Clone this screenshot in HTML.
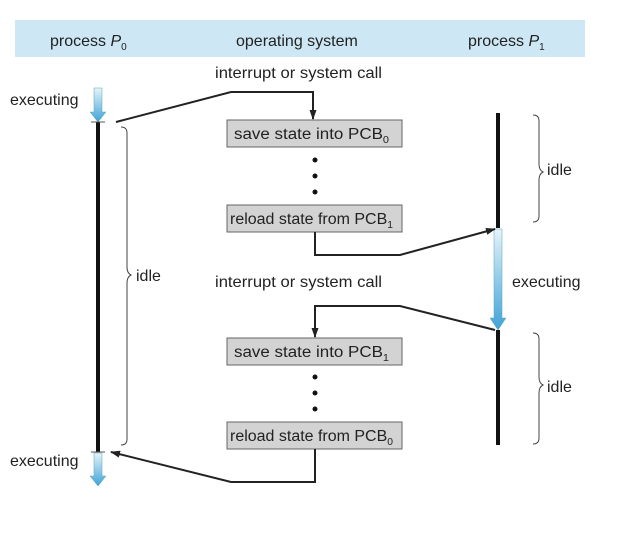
<!DOCTYPE html>
<html><head><style>
body{margin:0;background:#fff;width:644px;height:530px;overflow:hidden}
svg text{font-family:"Liberation Sans",sans-serif;fill:#222}
</style></head><body>
<svg width="644" height="530" viewBox="0 0 644 530">
<defs>
<linearGradient id="g" x1="0" y1="0" x2="0" y2="1"><stop offset="0" stop-color="#e6f3fb"/><stop offset="1" stop-color="#3fa2d8"/></linearGradient>
<marker id="a" markerUnits="userSpaceOnUse" markerWidth="10" markerHeight="8" refX="9" refY="4" orient="auto"><path d="M0,0.5L10,4L0,7.5z" fill="#222"/></marker>
</defs>
<rect x="15" y="20" width="570" height="37" fill="#cde7f4"/>
<text x="50" y="46" font-size="16">process <tspan font-style="italic">P</tspan><tspan font-size="10" dy="4">0</tspan></text>
<text x="236" y="46" font-size="16">operating system</text>
<text x="468" y="46" font-size="16">process <tspan font-style="italic">P</tspan><tspan font-size="10" dy="4">1</tspan></text>
<text x="215" y="78" font-size="16" textLength="167" lengthAdjust="spacingAndGlyphs">interrupt or system call</text>
<text x="215" y="287" font-size="16" textLength="167" lengthAdjust="spacingAndGlyphs">interrupt or system call</text>
<text x="10" y="105" font-size="16">executing</text>
<text x="10" y="466" font-size="16">executing</text>
<text x="512" y="287" font-size="16">executing</text>
<text x="136" y="281" font-size="16">idle</text>
<text x="547" y="175" font-size="16">idle</text>
<text x="547" y="392" font-size="16">idle</text>
<path d="M94,88h8v24h4l-8,10l-8,-10h4z" fill="url(#g)" stroke="#5aa" stroke-width="0.5"/>
<line x1="98" y1="122" x2="98" y2="452" stroke="#111" stroke-width="4"/>
<line x1="91" y1="122" x2="105" y2="122" stroke="#555"/>
<line x1="91" y1="452" x2="105" y2="452" stroke="#555"/>
<path d="M94,453h8v23h4l-8,10l-8,-10h4z" fill="url(#g)" stroke="#5aa" stroke-width="0.5"/>
<line x1="498" y1="113" x2="498" y2="228" stroke="#111" stroke-width="4"/>
<path d="M494,229h8v89h4l-8,12l-8,-12h4z" fill="url(#g)" stroke="#5aa" stroke-width="0.5"/>
<line x1="498" y1="330" x2="498" y2="445" stroke="#111" stroke-width="4"/>
<g fill="none" stroke="#444" stroke-width="1">
<path d="M121,127q6,0 6,6v134q0,6 4,8q-4,2 -4,8v156q0,6 -6,6"/>
<path d="M533,115q6,0 6,6v43q0,6 4,8q-4,2 -4,8v36q0,6 -6,6"/>
<path d="M533,333q6,0 6,6v38q0,6 4,8q-4,2 -4,8v45q0,6 -6,6"/>
</g>
<g font-size="15.5">
<rect x="227" y="120" width="175" height="27" fill="#d3d3d3" stroke="#666"/>
<text x="234" y="139" textLength="155" lengthAdjust="spacingAndGlyphs">save state into PCB<tspan font-size="10" dy="4">0</tspan></text>
<rect x="227" y="205" width="175" height="27" fill="#d3d3d3" stroke="#666"/>
<text x="230" y="224" textLength="163" lengthAdjust="spacingAndGlyphs">reload state from PCB<tspan font-size="10" dy="4">1</tspan></text>
<rect x="227" y="338" width="175" height="27" fill="#d3d3d3" stroke="#666"/>
<text x="234" y="357" textLength="155" lengthAdjust="spacingAndGlyphs">save state into PCB<tspan font-size="10" dy="4">1</tspan></text>
<rect x="227" y="422" width="175" height="27" fill="#d3d3d3" stroke="#666"/>
<text x="230" y="441" textLength="163" lengthAdjust="spacingAndGlyphs">reload state from PCB<tspan font-size="10" dy="4">0</tspan></text>
</g>
<g fill="#111">
<circle cx="315" cy="160" r="2.5"/><circle cx="315" cy="176" r="2.5"/><circle cx="315" cy="192" r="2.5"/>
<circle cx="315" cy="377" r="2.5"/><circle cx="315" cy="393" r="2.5"/><circle cx="315" cy="409" r="2.5"/>
</g>
<g fill="none" stroke="#222" stroke-width="2">
<path d="M116,122L231,92H313V119" marker-end="url(#a)"/>
<path d="M315,232V255H400L495,229" marker-end="url(#a)"/>
<path d="M495,330L400,306H315V337" marker-end="url(#a)"/>
<path d="M315,449V482H231L111,452" marker-end="url(#a)"/>
</g>
</svg>
</body></html>
